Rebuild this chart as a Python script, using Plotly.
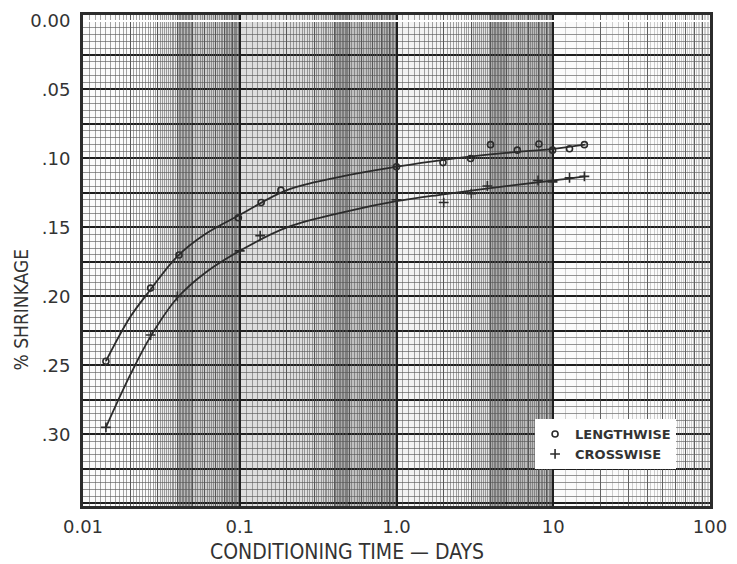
import numpy as np
import plotly.graph_objects as go

# ---------------- data ----------------
len_days = [0.014, 0.027, 0.041, 0.098, 0.137, 0.183, 1.0, 1.98, 2.97, 3.98, 5.9, 8.1, 9.9, 12.7, 15.8]
len_shrink = [0.247, 0.194, 0.170, 0.143, 0.132, 0.123, 0.106, 0.103, 0.100, 0.090, 0.094, 0.0895, 0.094, 0.093, 0.090]

cross_days = [0.014, 0.027, 0.040, 0.10, 0.135, 1.0, 2.0, 3.0, 3.8, 8.0, 9.9, 12.7, 15.8]
cross_shrink = [0.295, 0.228, 0.200, 0.167, 0.156, 0.130, 0.132, 0.1255, 0.120, 0.116, 0.117, 0.114, 0.113]

# smooth fitted curves as drawn on the chart
curve_days = [0.014, 0.02, 0.027, 0.04, 0.06, 0.1, 0.2, 0.5, 1.0, 2.0, 5.0, 10.0, 16.0]
len_curve = [0.247, 0.215, 0.195, 0.171, 0.155, 0.141, 0.123, 0.112, 0.106, 0.101, 0.096, 0.093, 0.090]
cross_curve = [0.295, 0.257, 0.229, 0.201, 0.183, 0.167, 0.150, 0.138, 0.131, 0.126, 0.120, 0.116, 0.113]

x_tick_vals = [0.01, 0.1, 1, 10, 100]
x_tick_text = ["0.01", "0.1", "1.0", "10", "100"]
y_tick_vals = [0.00, 0.05, 0.10, 0.15, 0.20, 0.25, 0.30]
y_tick_text = ["0.00", ".05", ".10", ".15", ".20", ".25", ".30"]

# ---------------- style ----------------
INK = "#2b2b2b"
FONT = "DejaVu Sans"
TITLE_FONT = "DejaVu Sans Condensed, Liberation Sans Narrow, DejaVu Sans"

decades = [0.01, 0.1, 1, 10]
mid_grid = [d * k for d in decades for k in range(2, 10)]
fine_grid = []
for d in decades[:3]:
    for v in np.arange(1.1, 5.0, 0.1):
        fine_grid.append(d * v)
    for v in np.arange(5.2, 10.0, 0.2):
        fine_grid.append(d * v)
light_grid = [10 * v for v in np.arange(1.2, 10.0, 0.2)]

y_quarter = [0.025 * i for i in range(15)]
y_text = []
for v in y_quarter:
    k = v / 0.05
    if abs(k - round(k)) < 1e-6 and int(round(k)) < len(y_tick_text):
        y_text.append(y_tick_text[int(round(k))])
    else:
        y_text.append("")

# scan-like shading bands of the graph paper (x0, x1, alpha)
bands = [
    (0.03, 0.04, 0.08), (0.04, 0.05, 0.32), (0.05, 0.08, 0.22), (0.08, 0.1, 0.34),
    (0.1, 0.3, 0.14), (0.3, 0.4, 0.18), (0.4, 0.5, 0.38), (0.5, 0.8, 0.28), (0.8, 1.0, 0.34),
    (1.0, 3.0, 0.04), (3.0, 4.0, 0.12), (4.0, 5.0, 0.38), (5.0, 10.0, 0.30),
]

fig = go.Figure()

fig.add_trace(go.Scatter(x=curve_days, y=len_curve, mode="lines", line=dict(color=INK, width=1.8, shape="spline", smoothing=1.0),
                         showlegend=False, hoverinfo="skip"))
fig.add_trace(go.Scatter(x=curve_days, y=cross_curve, mode="lines", line=dict(color=INK, width=1.8, shape="spline", smoothing=1.0),
                         showlegend=False, hoverinfo="skip"))
fig.add_trace(go.Scatter(x=len_days, y=len_shrink, mode="markers", name="LENGTHWISE",
                         marker=dict(symbol="circle-open", size=6, color=INK, line=dict(width=1.6, color=INK))))
fig.add_trace(go.Scatter(x=cross_days, y=cross_shrink, mode="markers", name="CROSSWISE",
                         marker=dict(symbol="cross-thin-open", size=7, color=INK, line=dict(width=1.6, color=INK))))
# invisible traces holding the fine-grid overlay axes
fig.add_trace(go.Scatter(x=curve_days, y=len_curve, xaxis="x2", yaxis="y2", mode="lines",
                         line=dict(width=0), opacity=0, showlegend=False, hoverinfo="skip"))
fig.add_trace(go.Scatter(x=curve_days, y=len_curve, xaxis="x3", yaxis="y2", mode="lines",
                         line=dict(width=0), opacity=0, showlegend=False, hoverinfo="skip"))

shapes = []
for x0, x1, a in bands:
    shapes.append(dict(type="rect", xref="x", yref="paper", x0=x0, x1=x1, y0=0, y1=1,
                       fillcolor=f"rgba(40,40,40,{a})", line=dict(width=0), layer="below"))

yr = [0.352, -0.004]
fig.update_layout(
    width=737, height=564,
    margin=dict(l=83, r=20, t=10, b=58),
    paper_bgcolor="white", plot_bgcolor="#fbfbfb",
    shapes=shapes,
    xaxis=dict(type="log", range=[-2, 2], tickvals=x_tick_vals, ticktext=x_tick_text,
               showgrid=True, gridcolor="#1e1e1e", gridwidth=2,
               minor=dict(tickvals=mid_grid, showgrid=True, gridcolor="#555", gridwidth=1, ticklen=0),
               showline=True, linecolor=INK, linewidth=3, mirror=True, ticks="",
               tickfont=dict(family=FONT, size=18, color="#333"), ticklabelstandoff=2, zeroline=False),
    xaxis2=dict(type="log", range=[-2, 2], overlaying="x", tickvals=fine_grid, showticklabels=False,
                showgrid=True, gridcolor="rgba(90,90,90,0.55)", gridwidth=0.6, ticks="", showline=False),
    xaxis3=dict(type="log", range=[-2, 2], overlaying="x", tickvals=light_grid, showticklabels=False,
                showgrid=True, gridcolor="rgba(120,120,120,0.35)", gridwidth=0.6, ticks="", showline=False),
    yaxis=dict(range=yr, tickvals=y_quarter, ticktext=y_text,
               showgrid=True, gridcolor="#1e1e1e", gridwidth=1.6,
               minor=dict(dtick=0.005, tick0=0, showgrid=True, gridcolor="rgba(80,80,80,0.6)", gridwidth=0.7, ticklen=0),
               showline=True, linecolor=INK, linewidth=3, mirror=True, ticks="",
               tickfont=dict(family=FONT, size=18, color="#333"), ticklabelstandoff=6, zeroline=False),
    yaxis2=dict(range=yr, overlaying="y", showticklabels=False, showgrid=False, ticks="", showline=False),
    legend=dict(x=0.721, y=0.177, xanchor="left", yanchor="top", bgcolor="white", borderwidth=0,
                font=dict(family=FONT, size=13, color="#333", weight="bold"), itemwidth=30,
                tracegroupgap=0),
    annotations=[
        dict(text="% SHRINKAGE", xref="paper", yref="paper", x=-0.099, y=0.5, xanchor="center", yanchor="middle",
             textangle=-90, showarrow=False, font=dict(family=TITLE_FONT, size=19, color="#333"),
             yshift=-49),
        dict(text="CONDITIONING TIME \u2014 DAYS", xref="paper", yref="paper", x=0.5, y=0, xanchor="center",
             yanchor="middle", showarrow=False, font=dict(family=TITLE_FONT, size=21, color="#333"),
             yshift=-46, xshift=-50),
    ],
)

fig.write_html("out.html")
